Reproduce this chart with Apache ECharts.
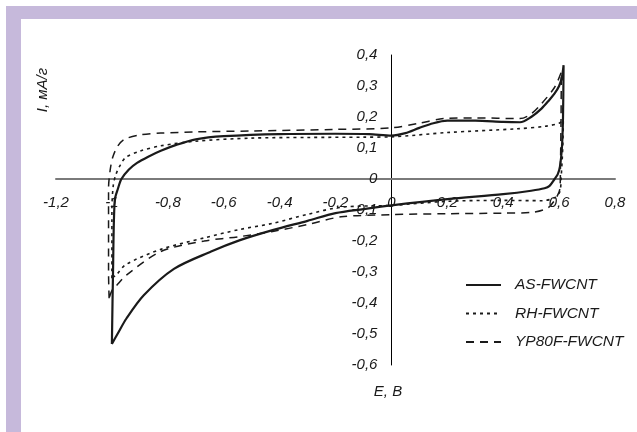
<!DOCTYPE html>
<html>
<head>
<meta charset="utf-8">
<script src="https://cdn.jsdelivr.net/npm/echarts@6/dist/echarts.min.js"></script>
<style>
  html, body { margin: 0; padding: 0; background: #fff; }
  #chart { width: 637px; height: 432px; }
</style>
</head>
<body>
<div id="chart"></div>
<script>
// ЦВА кривые, [E, I] — замкнутый цикл: от нижней левой точки вверх, вправо по анодной ветви, вниз, влево по катодной
const seriesNames = ["AS-FWCNT", "RH-FWCNT", "YP80F-FWCNT"];

const asData = [
  [-1.0, -0.532], [-0.996, -0.3], [-0.99, -0.07], [-0.978, -0.03], [-0.966, 0], [-0.94, 0.03],
  [-0.91, 0.052], [-0.87, 0.072], [-0.825, 0.091], [-0.77, 0.11], [-0.7, 0.128], [-0.6, 0.138],
  [-0.4, 0.145], [-0.2, 0.146], [-0.08, 0.145], [0, 0.14], [0.05, 0.148], [0.1, 0.165],
  [0.15, 0.18], [0.2, 0.188], [0.3, 0.188], [0.4, 0.184], [0.46, 0.183], [0.5, 0.2],
  [0.537, 0.227], [0.565, 0.255], [0.584, 0.276], [0.6, 0.3], [0.61, 0.328], [0.616, 0.367],
  [0.614, 0.2], [0.61, 0.1], [0.603, 0.04], [0.595, 0.015], [0.584, 0], [0.566, -0.022],
  [0.548, -0.03], [0.5, -0.038], [0.4, -0.049], [0.2, -0.065], [0, -0.085], [-0.1, -0.097],
  [-0.2, -0.11], [-0.3, -0.135], [-0.425, -0.165], [-0.544, -0.198], [-0.645, -0.234],
  [-0.778, -0.29], [-0.886, -0.375], [-0.948, -0.45], [-0.98, -0.5], [-1.0, -0.532]
];

const rhData = [
  [-1.0, -0.32], [-1.0, -0.1], [-0.995, -0.02], [-0.985, 0.016], [-0.97, 0.045], [-0.95, 0.07],
  [-0.9, 0.09], [-0.825, 0.107], [-0.7, 0.122], [-0.5, 0.132], [-0.3, 0.134], [-0.1, 0.135],
  [0, 0.136], [0.2, 0.15], [0.45, 0.162], [0.55, 0.17], [0.6, 0.18], [0.615, 0.19],
  [0.613, 0.1], [0.607, 0], [0.603, -0.04], [0.585, -0.06], [0.54, -0.07], [0.4, -0.069],
  [0.2, -0.072], [0, -0.085], [-0.18, -0.091], [-0.3, -0.114], [-0.425, -0.143],
  [-0.544, -0.163], [-0.67, -0.19], [-0.825, -0.227], [-0.95, -0.276], [-0.985, -0.31], [-1.0, -0.32]
];

const ypData = [
  [-1.01, -0.385], [-1.012, -0.3], [-1.012, -0.03], [-1.006, 0.03], [-0.997, 0.07], [-0.98, 0.105],
  [-0.955, 0.128], [-0.9, 0.142], [-0.825, 0.148], [-0.7, 0.152], [-0.5, 0.155], [-0.2, 0.16],
  [0, 0.165], [0.1, 0.18], [0.19, 0.195], [0.3, 0.197], [0.46, 0.195], [0.5, 0.21],
  [0.537, 0.243], [0.584, 0.296], [0.608, 0.345], [0.607, 0.2], [0.605, 0.05], [0.603, -0.03],
  [0.59, -0.06], [0.56, -0.093], [0.5, -0.108], [0.4, -0.11], [0.2, -0.112], [0, -0.115],
  [-0.18, -0.122], [-0.3, -0.147], [-0.425, -0.169], [-0.544, -0.186], [-0.67, -0.2],
  [-0.825, -0.234], [-0.948, -0.31], [-0.985, -0.345], [-1.0, -0.36], [-1.01, -0.385]
];

const xTickValues = [-1.2, -1, -0.8, -0.6, -0.4, -0.2, 0, 0.2, 0.4, 0.6, 0.8];
const xTickLabels = ["-1,2", "-1", "-0,8", "-0,6", "-0,4", "-0,2", "0", "0,2", "0,4", "0,6", "0,8"];
const yTickValues = [-0.6, -0.5, -0.4, -0.3, -0.2, -0.1, 0, 0.1, 0.2, 0.3, 0.4];
const yTickLabels = ["-0,6", "-0,5", "-0,4", "-0,3", "-0,2", "-0,1", "0", "0,1", "0,2", "0,3", "0,4"];

const fontFamily = "'Liberation Sans', Arial, sans-serif";

function pickLabel(values, labels, v) {
  const i = values.findIndex(t => Math.abs(t - v) < 1e-6);
  return i < 0 ? "" : labels[i];
}

const chart = echarts.init(document.getElementById("chart"));

const lineStyles = [
  { color: "#1a1a1a", width: 2.2, type: "solid" },
  { color: "#1a1a1a", width: 1.6, type: [3, 4] },
  { color: "#1a1a1a", width: 1.5, type: [8, 6] }
];

// сетка: x от -1.2 до 0.8, y от -0.6 до 0.4; оси пересекаются в нуле
const gridLeft = 56, gridWidth = 559, gridTop = 55, gridHeight = 310;
const yAxisShift = gridWidth * 1.2 / 2.0;   // положение E=0 от левого края
const xAxisShift = gridHeight * 0.6 / 1.0;  // положение I=0 от нижнего края

const option = {
  animation: false,
  backgroundColor: "#fff",
  graphic: [
    { type: "rect", z: -100, silent: true, shape: { x: 6, y: 6, width: 631, height: 426 }, style: { fill: "#c6b9db" } },
    { type: "rect", z: -99, silent: true, shape: { x: 21, y: 19, width: 616, height: 413 }, style: { fill: "#fff" } },
    {
      type: "text", z: 100, x: 43, y: 90, rotation: Math.PI / 2,
      style: { text: "I, мА/г", fill: "#1a1a1a", font: "italic 15px " + fontFamily, align: "center", verticalAlign: "middle" }
    },
    {
      type: "text", z: 100, x: 388, y: 392,
      style: { text: "E, B", fill: "#1a1a1a", font: "italic 15px " + fontFamily, align: "center", verticalAlign: "middle" }
    }
  ],
  grid: { left: gridLeft, width: gridWidth, top: gridTop, height: gridHeight, containLabel: false },
  legend: {
    orient: "vertical",
    left: 465,
    top: 275,
    padding: 0,
    itemWidth: 35,
    itemHeight: 14,
    itemGap: 8.5,
    itemStyle: { opacity: 0 },
    textStyle: {
      fontFamily: fontFamily, fontStyle: "italic", fontSize: 15.5, color: "#1a1a1a",
      lineHeight: 20, padding: [0, 0, 0, 9]
    },
    data: seriesNames
  },
  xAxis: {
    type: "value",
    position: "bottom",
    offset: -xAxisShift,
    min: -1.2,
    max: 0.8,
    interval: 0.2,
    axisLine: { onZero: false, lineStyle: { color: "#7a7a7a", width: 2 } },
    axisTick: { show: false },
    splitLine: { show: false },
    axisLabel: {
      margin: 16,
      color: "#1a1a1a",
      fontFamily: fontFamily,
      fontStyle: "italic",
      fontSize: 15,
      showMinLabel: true,
      showMaxLabel: true,
      formatter: v => pickLabel(xTickValues, xTickLabels, v)
    }
  },
  yAxis: {
    type: "value",
    position: "left",
    offset: -yAxisShift,
    min: -0.6,
    max: 0.4,
    interval: 0.1,
    axisLine: { show: true, onZero: false, lineStyle: { color: "#000", width: 1 } },
    axisTick: { show: false },
    splitLine: { show: false },
    axisLabel: {
      margin: 14,
      color: "#1a1a1a",
      fontFamily: fontFamily,
      fontStyle: "italic",
      fontSize: 15,
      formatter: v => pickLabel(yTickValues, yTickLabels, v)
    }
  },
  series: [asData, rhData, ypData].map((d, i) => ({
    name: seriesNames[i],
    type: "line",
    data: d,
    symbol: "circle",
    showSymbol: false,
    smooth: 0.3,
    lineStyle: lineStyles[i],
    itemStyle: { color: "#1a1a1a" },
    z: 3 - i
  }))
};

chart.setOption(option);
</script>
</body>
</html>
